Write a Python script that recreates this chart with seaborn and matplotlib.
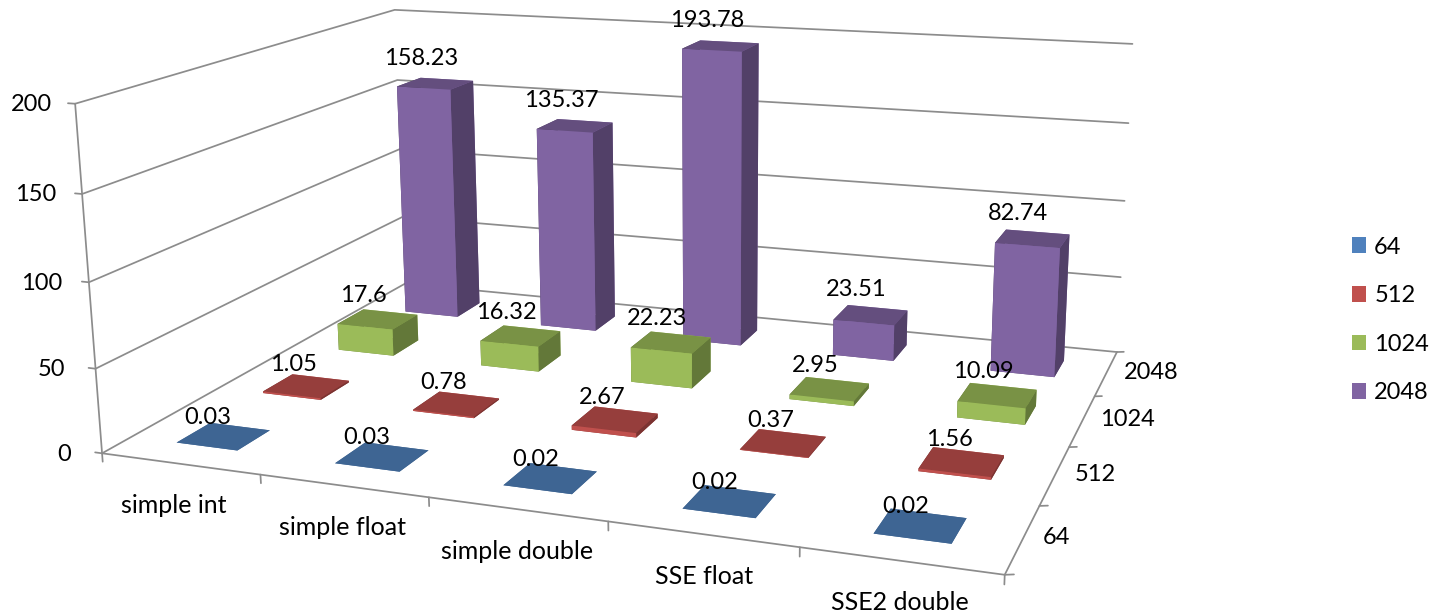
import matplotlib
matplotlib.use("Agg")
import matplotlib.pyplot as plt
import numpy as np
import seaborn as sns
from matplotlib.patches import Patch
from mpl_toolkits.mplot3d import proj3d

categories = ["simple int", "simple float", "simple double", "SSE float", "SSE2 double"]
series = ["64", "512", "1024", "2048"]
v64 = [0.03, 0.03, 0.02, 0.02, 0.02]
v512 = [1.05, 0.78, 2.67, 0.37, 1.56]
v1024 = [17.6, 16.32, 22.23, 2.95, 10.09]
v2048 = [158.23, 135.37, 193.78, 23.51, 82.74]
z_ticks = [0, 50, 100, 150, 200]

W, H = 1444, 615
GRID = "#8c8c8c"
LW = 1.25
FONT = 17
BAR_W, BAR_D = 0.39, 0.38
# text offsets in pixels, one per series / tick
LABEL_DX = [-17, -12.5, -12.5, -11]
LABEL_DY = [19.5, 22, 23.5, 25]
ZTICK_DX = [-31, -30, -27, -26, -23]
CAT_DX = [-6, -1, 0, 2, -1]
DEPTH_DX = [34, 40, 45, 45]

sns.set_theme(style="white")
plt.rcParams["font.family"] = ["Lato", "DejaVu Sans"]
palette = sns.color_palette(["#4F81BD", "#C0504D", "#9BBB59", "#8064A2"])

fig = plt.figure(figsize=(W / 100, H / 100), dpi=100)
# camera and box worked out from the corners of the reference
ax = fig.add_axes([81.6 / W, -184.1 / H, 1091.1 / W, 1091.1 / H], projection="3d", computed_zorder=False)
ax.view_init(elev=14.312, azim=-69.375, roll=0.5)
ax.set_proj_type("persp", focal_length=0.3525)
ax.set_box_aspect((1.3562, 1, 0.5312))
ax.set_axis_off()


def line(xs, ys, zs, zorder=1):
    ax.plot(xs, ys, zs, color=GRID, lw=LW, zorder=zorder, clip_on=False)


def label(x, y, z, text, dx, dy, ha="center", size=FONT):
    px, py, _ = proj3d.proj_transform(x, y, z, ax.get_proj())
    ax.annotate(text, xy=(px, py), xytext=(dx, dy), textcoords="offset pixels", ha=ha, va="center",
                fontsize=size, color="black", zorder=200, annotation_clip=False)


# walls and floor outline
for z in z_ticks:
    line([0, 0, 5], [0, 4, 4], [z, z, z])
    line([0, -0.045], [0, 0], [z, z])
line([0, 0], [0, 0], [0, 200])
line([0, 5, 5], [0, 0, 4], [0, 0, 0])
for i in range(6):
    line([i, i], [0, 0], [0, -5])
for j in range(5):
    line([5, 5.04], [j, j + 0.02], [0, 0])

for j, vals in reversed(list(enumerate([v64, v512, v1024, v2048]))):
    base = np.array(palette[j])
    faces = [tuple(base * k) for k in (0.75, 0.78, 1, 1, 0.6, 0.64)]
    for i, v in enumerate(vals):
        cx = i + 0.5 + (j - 1) * 0.01
        ax.bar3d(cx - BAR_W / 2, j + 0.5 - BAR_D / 2, 0, BAR_W, BAR_D, v, color=faces, shade=False,
                 edgecolor="none", zorder=10 + (3 - j) * 10 + i, clip_on=False)

ax.set_xlim(0, 5)
ax.set_ylim(0, 4)
ax.set_zlim(0, 200)

for j, vals in enumerate([v64, v512, v1024, v2048]):
    for i, v in enumerate(vals):
        label(i + 0.5, j + 0.5, v, f"{v}", LABEL_DX[j], LABEL_DY[j])

for z, dx in zip(z_ticks, ZTICK_DX):
    label(0, 0, z, str(z), dx, -1, ha="right")
for i, name in enumerate(categories):
    label(i + 0.5, 0, 0, name, CAT_DX[i], -42, size=18)
for j, name in enumerate(series):
    label(5, j + 0.5, 0, name, DEPTH_DX[j], 1)

handles = [Patch(facecolor=c, edgecolor="none") for c in palette]
fig.legend(handles, series, loc="center left", bbox_to_anchor=(1352 / W, 1 - 320 / H), frameon=False,
           fontsize=FONT, labelcolor="black", borderpad=0, borderaxespad=0, handlelength=0.6,
           handleheight=0.64, handletextpad=0.34, labelspacing=1.17)

fig.savefig("out.png", dpi=100)
